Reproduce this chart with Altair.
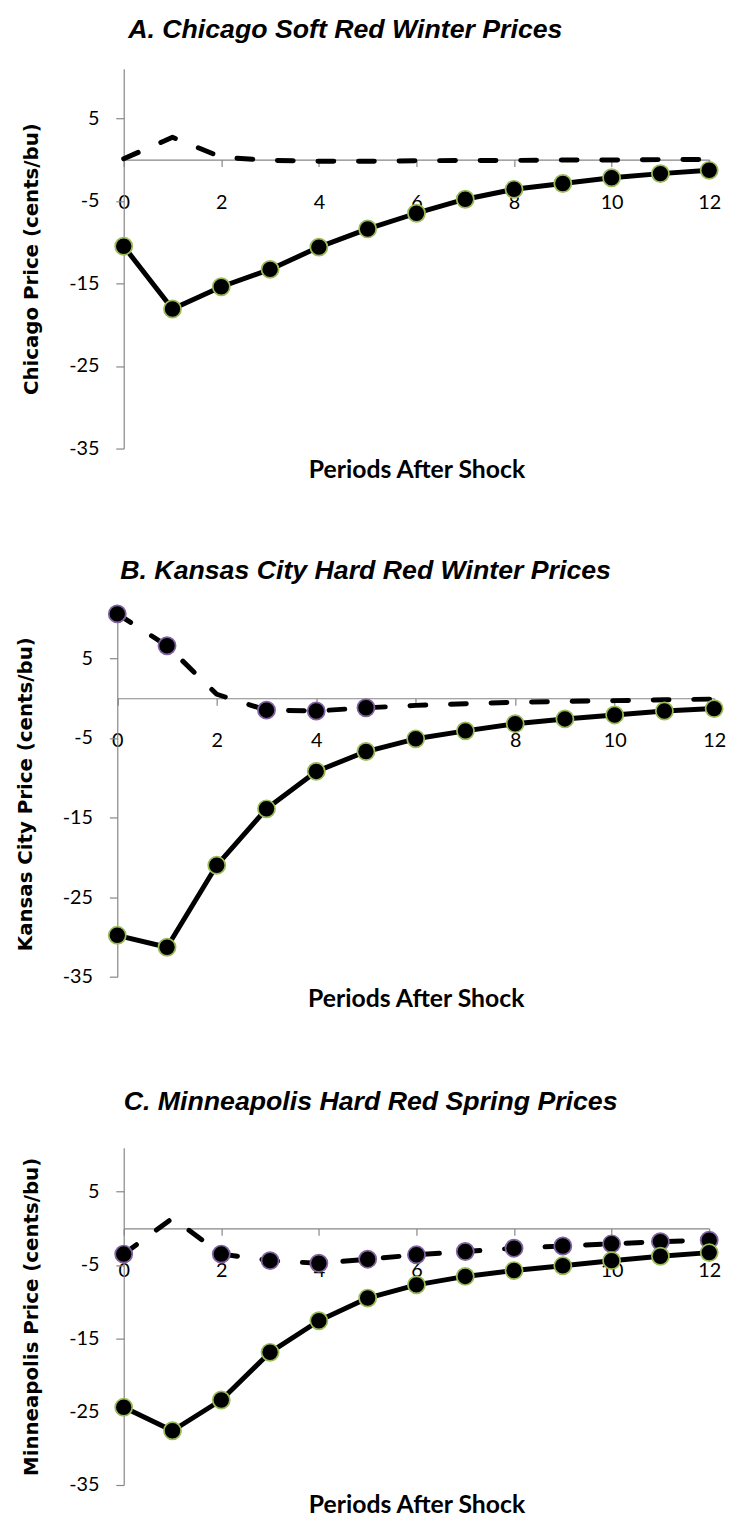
import altair as alt
import pandas as pd

periods = list(range(13))

chicago_solid = [-10.5, -18.1, -15.4, -13.3, -10.6, -8.4, -6.5, -4.8, -3.6, -2.9, -2.2, -1.7, -1.3]
chicago_dash = [0.1, 2.7, 0.3, -0.1, -0.2, -0.2, -0.15, -0.1, -0.1, -0.05, -0.05, 0.0, 0.0]
chicago_dash_markers = []

kansas_solid = [-29.8, -31.3, -21.0, -13.9, -9.2, -6.7, -5.1, -4.1, -3.2, -2.6, -2.1, -1.6, -1.3]
kansas_dash = [10.6, 6.6, 0.5, -1.5, -1.6, -1.2, -0.9, -0.7, -0.5, -0.4, -0.3, -0.2, -0.1]
kansas_dash_markers = [0, 1, 3, 4, 5]

minn_solid = [-24.4, -27.6, -23.4, -16.9, -12.6, -9.5, -7.7, -6.55, -5.75, -5.1, -4.4, -3.8, -3.3]
minn_dash = [-3.5, 1.4, -3.5, -4.4, -4.75, -4.2, -3.6, -3.15, -2.7, -2.4, -2.1, -1.8, -1.6]
minn_dash_markers = [0, 2, 3, 4, 5, 6, 7, 8, 9, 10, 11, 12]

titles = ["A. Chicago Soft Red Winter Prices",
          "B. Kansas City Hard Red Winter Prices",
          "C. Minneapolis Hard Red Spring Prices"]
y_titles = ["Chicago Price (cents/bu)",
            "Kansas City Price (cents/bu)",
            "Minneapolis Price (cents/bu)"]
x_title = "Periods After Shock"
x_ticks = [0, 2, 4, 6, 8, 10, 12]
y_ticks = [-35, -25, -15, -5, 5]
y_min, y_max = -35, 11

GREEN = "#9BBB59"
PURPLE = "#8064A2"
AXIS = "#868686"


def panel(title, ytitle, solid, dash, dash_marks, plot_h, group_h, x_left,
          width, title_x, title_y, xtitle_gap):
    df = pd.DataFrame({"period": periods, "solid": solid, "dash": dash})
    dm = df[df["period"].isin(dash_marks)]
    span = y_max - y_min
    zero_px = plot_h * y_max / span
    xs = alt.Scale(domain=[0, 12], nice=False, range=[x_left, width])
    ys = alt.Scale(domain=[y_min, y_max], nice=False, zero=False, range=[plot_h, 0])
    xaxis = alt.Axis(values=x_ticks, orient="bottom", offset=-(group_h - zero_px),
                     domainColor=AXIS, domainWidth=1.2, tickColor=AXIS, tickWidth=1.2,
                     tickSize=7, labelFont="Lato", labelFontSize=20, labelColor="black",
                     labelBaseline="alphabetic", labelPadding=42, labelFlush=False,
                     labelOverlap=False, grid=False, title=x_title, titleFont="Lato",
                     titleFontSize=25, titleFontWeight="bold", titleColor="black",
                     titleBaseline="alphabetic",
                     titleY=plot_h - zero_px + xtitle_gap)
    yaxis = alt.Axis(values=y_ticks, orient="left", offset=-x_left,
                     domainColor=AXIS, domainWidth=1.2, tickColor=AXIS, tickWidth=1.2,
                     tickSize=8, labelFont="Lato", labelFontSize=20, labelColor="black",
                     labelExpr="datum.value + ''",
                     labelPadding=17, labelOverlap=False, grid=False, title=ytitle,
                     titleFont="DejaVu Sans", titleFontSize=20, titleFontWeight="bold",
                     titleColor="black", titleAngle=270, titleAlign="center",
                     titleBaseline="middle", titleX=-93, titleY=plot_h / 2)
    x = alt.X("period:Q", scale=xs, axis=xaxis)
    base = alt.Chart(df)
    dash_line = base.mark_line(color="black", strokeWidth=5, strokeDash=[16, 25],
                               strokeCap="round", strokeJoin="round").encode(
        x=x, y=alt.Y("dash:Q", scale=ys, axis=yaxis))
    solid_line = base.mark_line(color="black", strokeWidth=5, strokeJoin="round").encode(
        x=x, y=alt.Y("solid:Q", scale=ys, axis=yaxis))
    dash_pts = alt.Chart(dm).mark_point(shape="circle", filled=True, fill="black",
                                        stroke=PURPLE, strokeWidth=1.75, size=300,
                                        opacity=1).encode(
        x=x, y=alt.Y("dash:Q", scale=ys, axis=yaxis))
    solid_pts = base.mark_point(shape="circle", filled=True, fill="black",
                                stroke=GREEN, strokeWidth=1.75, size=300,
                                opacity=1).encode(
        x=x, y=alt.Y("solid:Q", scale=ys, axis=yaxis))
    title_mark = alt.Chart(pd.DataFrame({"t": [title]})).mark_text(
        align="left", baseline="alphabetic", font="Liberation Sans", fontSize=27,
        fontWeight="bold", fontStyle="italic", color="black").encode(
        text="t:N", x=alt.value(title_x), y=alt.value(title_y))
    layers = [dash_line, solid_line]
    if len(dm) > 0:
        layers.append(dash_pts)
    layers.append(solid_pts)
    layers.append(title_mark)
    return alt.layer(*layers).properties(width=width, height=group_h)


pa = panel(titles[0], y_titles[0], chicago_solid, chicago_dash, chicago_dash_markers,
           plot_h=384, group_h=384, x_left=0, width=592, title_x=4.5,
           title_y=-31, xtitle_gap=29)
pb = panel(titles[1], y_titles[1], kansas_solid, kansas_dash, kansas_dash_markers,
           plot_h=370, group_h=379, x_left=-6.5, width=597, title_x=-3.5,
           title_y=-32, xtitle_gap=30)
pc = panel(titles[2], y_titles[2], minn_solid, minn_dash, minn_dash_markers,
           plot_h=341, group_h=341, x_left=0, width=592, title_x=0,
           title_y=-38, xtitle_gap=28)

chart = alt.vconcat(pa, pb, pc, spacing=164, bounds="flush").properties(
    padding={"left": 7, "top": 0, "right": 0, "bottom": 0}
).configure_view(strokeWidth=0)

chart.save("out.html", embed_options={"renderer": "svg", "actions": False})
